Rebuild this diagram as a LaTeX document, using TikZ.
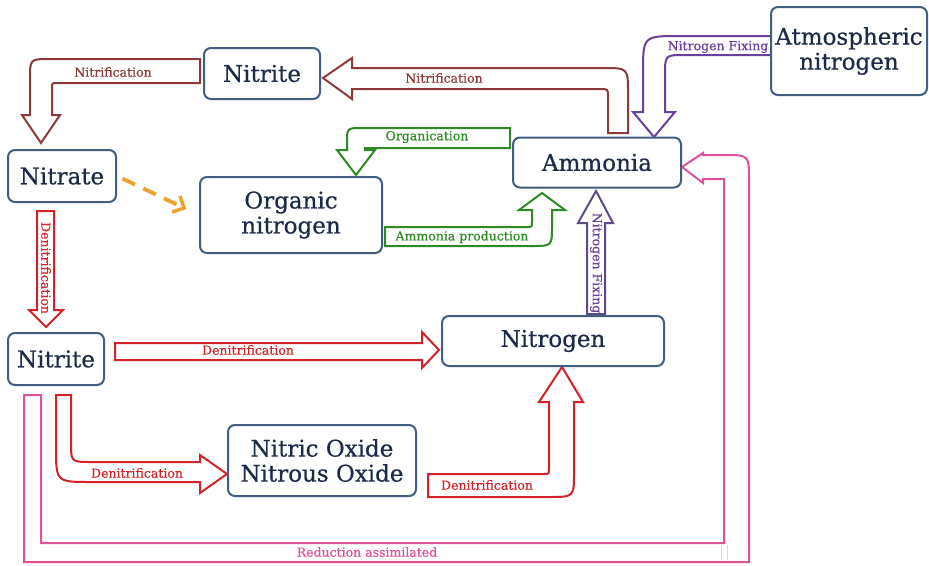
\documentclass[tikz,border=0pt]{standalone}
\usepackage{fontspec}
\setmainfont{DejaVu Serif}
\newfontfamily\boxfont{DejaVu Serif}[FakeBold=0.5]
\newfontfamily\lblfont{DejaVu Serif}[FakeBold=0.4]
\usetikzlibrary{arrows.meta}
\definecolor{boxline}{HTML}{3F5E82}
\definecolor{boxtext}{HTML}{1B2A48}
\definecolor{brownA}{HTML}{8E3A3A}
\definecolor{greenA}{HTML}{2E8A25}
\definecolor{purpleA}{HTML}{6A3F9E}
\definecolor{purpleB}{HTML}{5E4A8C}
\definecolor{redA}{HTML}{D42328}
\definecolor{pinkA}{HTML}{E0519A}
\definecolor{orangeA}{HTML}{F0A22E}
\tikzset{
  box/.style={draw=boxline, line width=2pt, rounded corners=7pt, fill=white,
    text=boxtext, font=\boxfont\fontsize{23}{25}\selectfont, align=center, inner sep=0pt},
  blockarrow/.style={line width=2pt, line join=miter, fill=white},
  lbl/.style={font=\lblfont\fontsize{12.5}{14}\selectfont, inner sep=0pt},
}
\begin{document}
\begin{tikzpicture}[x=1pt,y=-1pt]
\useasboundingbox (0,0) rectangle (929,565);

% ---- block arrows ----
% Ammonia -> Nitrite (Nitrification)
\draw[blockarrow, draw=brownA] (608,133) -- (608,97) .. controls (608,89) .. (600,89) -- (352,89) -- (352,99) -- (323,78) -- (352,58) -- (352,68) -- (603,68) .. controls (628,68) .. (628,93) -- (628,133) -- cycle;
\node[lbl, text=brownA] (lnit1) at (444,78) {Nitrification};

% Nitrite -> Nitrate (Nitrification)
\draw[blockarrow, draw=brownA] (200,59) -- (50,59) .. controls (30,59) .. (30,79) -- (30,115) -- (22,115) -- (41,143) -- (60,115) -- (52,115) -- (52,88) .. controls (52,83) .. (57,83) -- (200,83) -- cycle;
\node[lbl, text=brownA] (lnit2) at (113,72) {Nitrification};

% Organication
\draw[blockarrow, draw=greenA] (510,128) -- (362,128) .. controls (347,128) .. (347,143) -- (347,150) -- (337,150) -- (356,175) -- (375,150) -- (365,150) -- (365,148) -- (510,148) -- cycle;
\node[lbl, text=greenA] (lorg) at (427,137) {Organication};

% Ammonia production
\draw[blockarrow, draw=greenA] (385,227) -- (527,227) .. controls (532,227) .. (532,222) -- (532,210) -- (519,210) -- (542,193) -- (565,210) -- (552,210) -- (552,226) .. controls (552,246) .. (532,246) -- (385,246) -- cycle;
\node[lbl, text=greenA] (lamm) at (462,237) {Ammonia production};

% Nitrogen -> Ammonia (Nitrogen Fixing)
\draw[blockarrow, draw=purpleB] (587,314) -- (587,223) -- (578,223) -- (596,191) -- (613,223) -- (605,223) -- (605,314) -- cycle;
\node[lbl, text=purpleA, rotate=-90] (lfix1) at (596,263) {Nitrogen Fixing};

% Atmospheric -> Ammonia (Nitrogen Fixing)
\draw[blockarrow, draw=purpleA] (771,36) -- (680,36) .. controls (643,36) .. (643,73) -- (643,112) -- (633,112) -- (654,137) -- (675,112) -- (665,112) -- (665,75) .. controls (665,55) .. (685,55) -- (771,55) -- cycle;
\node[lbl, text=purpleA] (lfix2) at (718,47) {Nitrogen Fixing};

% Reduction assimilated
\draw[blockarrow, draw=pinkA] (24,395) -- (24,562) -- (749,562) -- (749,180) .. controls (749,155) .. (724,155) -- (703,155) -- (703,153) -- (682,167) -- (703,183) -- (703,179) -- (724,179) -- (724,543) -- (41,543) -- (41,395) -- cycle;
\draw[black!15, line width=0.8pt] (721,545) -- (721,560) (727,545) -- (727,560);
\node[lbl, text=pinkA] (lred) at (367,552) {Reduction assimilated};

% Nitrate -> Nitrite (Denitrification)
\draw[blockarrow, draw=redA] (37,211) -- (37,310) -- (29,310) -- (46,327) -- (63,310) -- (54,310) -- (54,211) -- cycle;
\node[lbl, text=redA, rotate=-90] (lden1) at (46,268) {Denitrification};

% Nitrite -> Nitrogen (Denitrification)
\draw[blockarrow, draw=redA] (115,343) -- (422,343) -- (422,332) -- (439,350) -- (422,368) -- (422,360) -- (115,360) -- cycle;
\node[lbl, text=redA] (lden2) at (248,350) {Denitrification};

% Nitrite -> Oxides (Denitrification)
\draw[blockarrow, draw=redA] (56,395) -- (56,447) .. controls (56,482) .. (91,482) -- (200,482) -- (200,493) -- (227,474) -- (200,455) -- (200,462) -- (91,462) .. controls (71,462) .. (71,442) -- (71,395) -- cycle;
\node[lbl, text=redA] (lden3) at (137,473) {Denitrification};

% Oxides -> Nitrogen (Denitrification)
\draw[blockarrow, draw=redA] (428,474) -- (544,474) .. controls (549,474) .. (549,469) -- (549,402) -- (539,402) -- (562,367) -- (583,402) -- (574,402) -- (574,472) .. controls (574,497) .. (549,497) -- (428,497) -- cycle;
\node[lbl, text=redA] (lden4) at (487,485) {Denitrification};

% ---- boxes ----
\node[box, minimum width=116pt, minimum height=51pt] (nitriteT) at (262,73.5) {Nitrite};
\node[box, minimum width=108pt, minimum height=52pt] (nitrate) at (62,176) {Nitrate};
\node[box, minimum width=182pt, minimum height=76pt] (organic) at (291,215) {Organic\\nitrogen};
\node[box, minimum width=168pt, minimum height=50pt] (ammonia) at (597,162.5) {Ammonia};
\node[box, minimum width=156pt, minimum height=88pt] (atmos) at (849,51) {Atmospheric\\nitrogen};
\node[box, minimum width=96pt, minimum height=52pt] (nitriteL) at (56,359) {Nitrite};
\node[box, minimum width=222pt, minimum height=50pt] (nitrogen) at (553,341) {Nitrogen};
\node[box, minimum width=188pt, minimum height=71pt] (oxide) at (322,460.5) {Nitric Oxide\\Nitrous Oxide};

% dashed orange arrow
\draw[orangeA, line width=3.8pt, dash pattern=on 14pt off 9pt, -{Straight Barb[length=9pt,width=18pt,line width=3.5pt]}, shorten <=6pt, shorten >=14pt] (nitrate.east) -- (organic.west);
\end{tikzpicture}
\end{document}
